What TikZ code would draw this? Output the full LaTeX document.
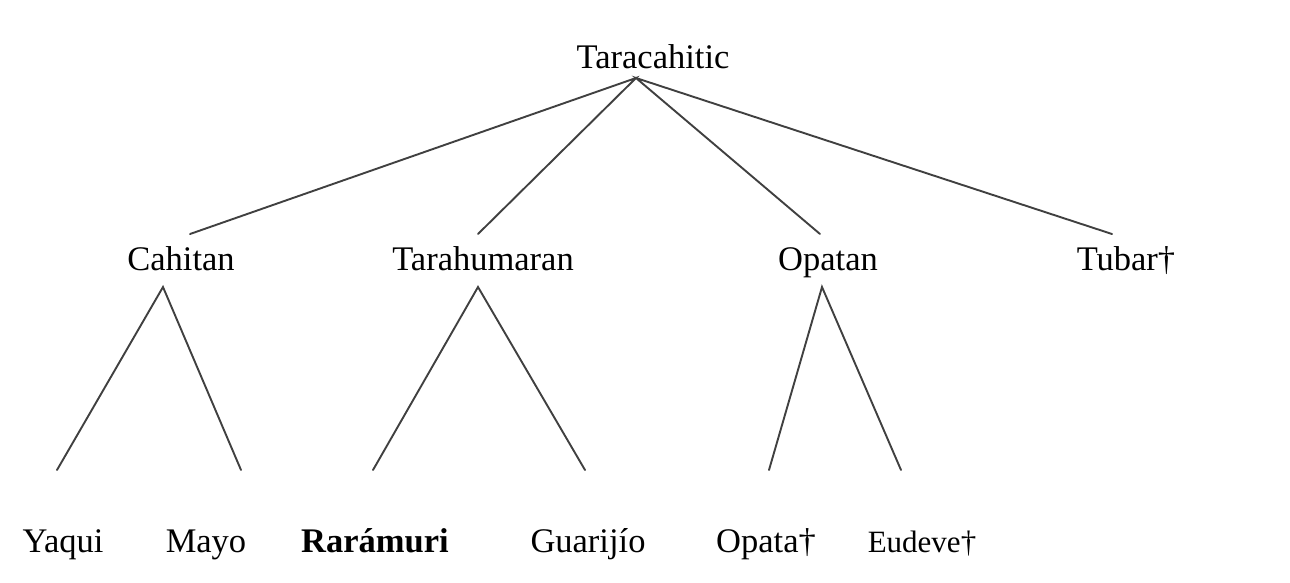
\documentclass[tikz,border=0pt]{standalone}
\usepackage{fontspec}
\setmainfont{Liberation Serif}
\definecolor{branchgray}{HTML}{404040}
\tikzset{
	lang/.style={anchor=base, inner sep=0pt, font=\fontsize{34.5}{40}\selectfont},
	branch/.style={draw=branchgray, line width=1.9pt, line cap=round},
}

\begin{document}
\begin{tikzpicture}[x=1pt, y=-1pt]
			\useasboundingbox (0, 0) rectangle (1290, 582);
			\node[lang] (taracahitic) at (653, 68) {Taracahitic};
			\node[lang] (cahitan) at (181, 270) {Cahitan};
			\node[lang] (tarahumaran) at (483, 270) {Tarahumaran};
			\node[lang] (opatan) at (828, 270) {Opatan};
			\node[lang] (tubar) at (1126, 270) {Tubar†};
			\node[lang] (yaqui) at (63, 552) {Yaqui};
			\node[lang] (mayo) at (206, 552) {Mayo};
			\node[lang, font=\fontsize{34.5}{40}\selectfont\bfseries] (raramuri) at (375, 552) {Rarámuri};
			\node[lang] (guarijio) at (588, 552) {Guarijío};
			\node[lang] (opata) at (766, 552) {Opata†};
			\node[lang, font=\fontsize{31}{36}\selectfont] (eudeve) at (922, 552) {Eudeve†};
			\coordinate (taracahitic-a) at (636, 78);
			\coordinate (cahitan-t) at (190, 234);
			\coordinate (tarahumaran-t) at (478, 234);
			\coordinate (opatan-t) at (820, 234);
			\coordinate (tubar-t) at (1112, 234);
			\coordinate (cahitan-a) at (163, 287);
			\coordinate (tarahumaran-a) at (478, 287);
			\coordinate (opatan-a) at (822, 287);
			\coordinate (yaqui-t) at (57, 470);
			\coordinate (mayo-t) at (241, 470);
			\coordinate (raramuri-t) at (373, 470);
			\coordinate (guarijio-t) at (585, 470);
			\coordinate (opata-t) at (769, 470);
			\coordinate (eudeve-t) at (901, 470);
			\draw[branch] (cahitan-t) -- (taracahitic-a) -- (tarahumaran-t);
			\draw[branch] (opatan-t) -- (taracahitic-a) -- (tubar-t);
			\draw[branch] (yaqui-t) -- (cahitan-a) -- (mayo-t);
			\draw[branch] (raramuri-t) -- (tarahumaran-a) -- (guarijio-t);
			\draw[branch] (opata-t) -- (opatan-a) -- (eudeve-t);
		\end{tikzpicture}
\end{document}
